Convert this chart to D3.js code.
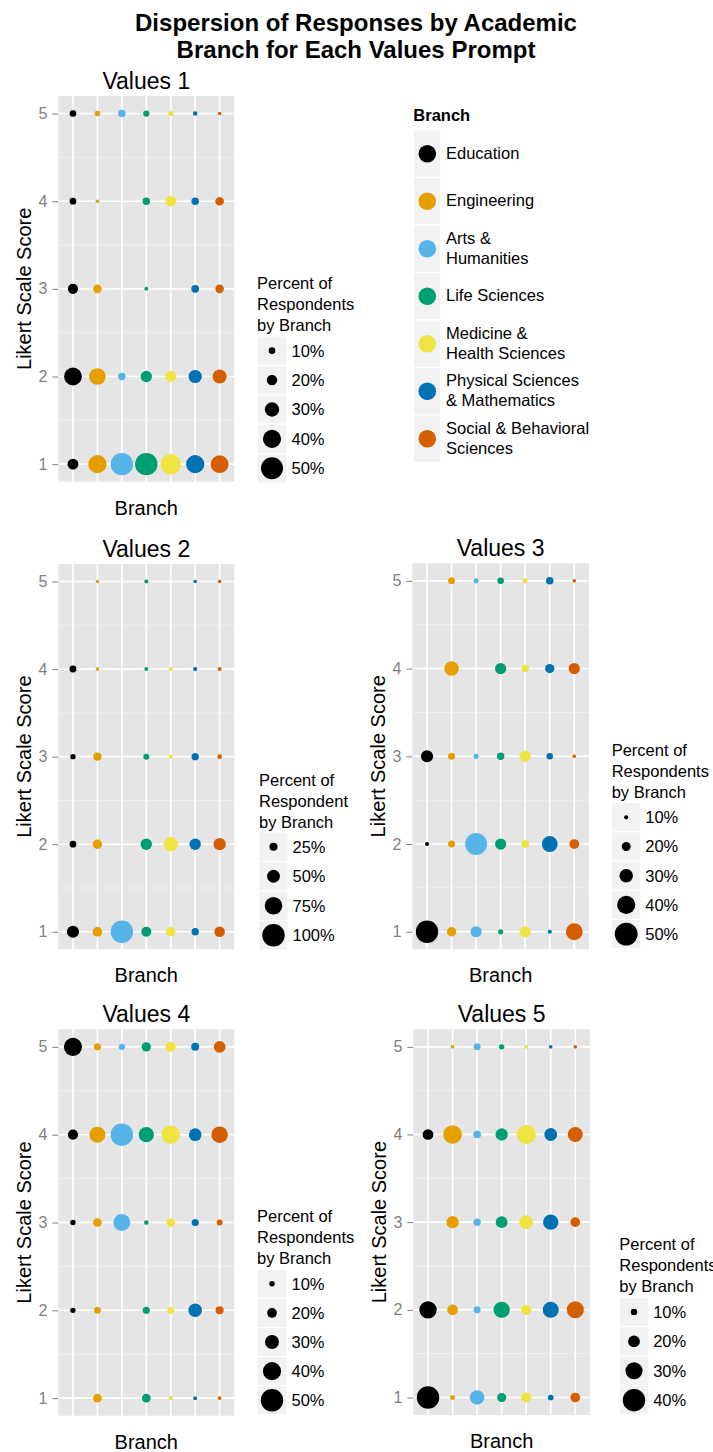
<!DOCTYPE html>
<html>
<head>
<meta charset="utf-8">
<script src="https://d3js.org/d3.v7.min.js"></script>
<style>
  body { margin: 0; background: #fff; }
  text { font-family: "Liberation Sans", Arial, Helvetica, sans-serif; }
</style>
</head>
<body>
<div id="chart"></div>
<script>
// branches, in plotting order
const branches = ["Education", "Engineering", "Arts & Humanities", "Life Sciences",
  "Medicine & Health Sciences", "Physical Sciences & Mathematics", "Social & Behavioral Sciences"];
const branchLabels = [["Education"], ["Engineering"], ["Arts &", "Humanities"], ["Life Sciences"],
  ["Medicine &", "Health Sciences"], ["Physical Sciences", "& Mathematics"], ["Social & Behavioral", "Sciences"]];
const branchColors = ["#000000", "#E69F00", "#56B4E9", "#009E73", "#F0E442", "#0072B2", "#D55E00"];
const scores = [1, 2, 3, 4, 5];

// percent of respondents per branch, for scores 1..5 (null = no one)
const values1 = [
  [21, 39, 19, 10, 10],
  [40, 36, 15, 2, 7],
  [51, 12, null, null, 12],
  [51, 22, 3, 12, 9],
  [46, 21, null, 21, 6],
  [40, 27, 13, 12, 4],
  [39, 29, 15, 15, 2]
];
const values2 = [
  [46, 18, 11, 19, null],
  [33, 32, 25, 1.4, 1.4],
  [100, null, null, null, null],
  [35, 42, 14, 3.5, 3.5],
  [32, 58, 3.5, 3.5, null],
  [21, 42, 21, 5, 1.7],
  [38, 47, 7, 3.5, 1.4]
];
const values3 = [
  [49, 9.6, 27, null, null],
  [21, 16, 16, 32, 16],
  [25, 48, 12, null, 12],
  [12, 25, 17, 25, 15],
  [25, 18, 25, 17, 12],
  [10, 35, 15, 21, 17],
  [37, 22, 8.7, 25, 8.7]
];
const values4 = [
  [null, 9.7, 9.7, 21, 40],
  [17.5, 13, 17.5, 35, 14],
  [null, null, 37, 50, 12],
  [17.5, 14, 8, 33, 19],
  [7.3, 13, 17.5, 41, 21],
  [6.5, 29, 14, 27, 16],
  [5.6, 16, 11, 36, 25]
];
const values5 = [
  [40, 30.5, null, 18, null],
  [7.2, 18, 21, 33, 4.7],
  [25, 11, 11.6, 12.3, 11],
  [15, 28.6, 20, 21, 8],
  [17, 17, 23.6, 34, 5.4],
  [8.5, 28, 26.7, 22, 4.7],
  [16, 30, 16, 26, 4.6]
];

const breaks1 = [10, 20, 30, 40, 50];
const breaks2 = [25, 50, 75, 100];
const breaks3 = [10, 20, 30, 40, 50];
const breaks4 = [10, 20, 30, 40, 50];
const breaks5 = [10, 20, 30, 40];

const sizeTitleA = ["Percent of", "Respondents", "by Branch"];
const sizeTitleB = ["Percent of", "Respondent", "by Branch"];

const W = 713, H = 1452;
const svg = d3.select("#chart").append("svg")
  .attr("width", W).attr("height", H);
svg.append("rect").attr("width", W).attr("height", H).attr("fill", "#fff");

// main title
svg.append("text")
  .attr("x", 356).attr("text-anchor", "middle")
  .style("font-size", "24px").style("font-weight", "bold")
  .selectAll("tspan")
  .data(["Dispersion of Responses by Academic", "Branch for Each Values Prompt"])
  .join("tspan")
  .attr("x", 356)
  .attr("y", (d, i) => 31 + i * 27)
  .text(d => d);

const panels = [
  { title: "Values 1", data: values1, breaks: breaks1, lt: sizeTitleA,
    plot: { x: 58.3, y: 96, w: 176, h: 385.7 }, leg: { x: 257, ty: 289, ky: 336, kw: 30, kh: 29.4 } },
  { title: "Values 2", data: values2, breaks: breaks2, lt: sizeTitleB,
    plot: { x: 58.3, y: 564, w: 176, h: 385.3 }, leg: { x: 259, ty: 786, ky: 832, kw: 29, kh: 29.5 } },
  { title: "Values 3", data: values3, breaks: breaks3, lt: sizeTitleA,
    plot: { x: 412.3, y: 563.3, w: 176.7, h: 386 }, leg: { x: 611.7, ty: 756, ky: 802.7, kw: 29, kh: 29.2 } },
  { title: "Values 4", data: values4, breaks: breaks4, lt: sizeTitleA,
    plot: { x: 58.3, y: 1029.3, w: 176, h: 386.4 }, leg: { x: 257, ty: 1222, ky: 1269.3, kw: 30, kh: 29.1 } },
  { title: "Values 5", data: values5, breaks: breaks5, lt: sizeTitleA,
    plot: { x: 413.3, y: 1029.3, w: 176.7, h: 385.7 }, leg: { x: 619.3, ty: 1250, ky: 1297.3, kw: 29.4, kh: 29.4 } }
];

panels.forEach(p => {
  const pl = p.plot;
  const g = svg.append("g");

  const x = d3.scalePoint().domain(branches).range([pl.x, pl.x + pl.w]).padding(0.6);
  const y = d3.scaleLinear().domain([0.8, 5.2]).range([pl.y + pl.h, pl.y]);

  // flatten to points
  const pts = [];
  p.data.forEach((row, bi) => row.forEach((v, si) => {
    if (v != null) pts.push({ branch: branches[bi], color: branchColors[bi], score: scores[si], v: v });
  }));
  const r = d3.scaleLinear().domain(d3.extent(pts, d => d.v)).range([1.8, 11.2]);

  // panel background + grid
  g.append("rect").attr("x", pl.x).attr("y", pl.y).attr("width", pl.w).attr("height", pl.h)
    .attr("fill", "#E5E5E5");
  g.selectAll(".minor").data([1.5, 2.5, 3.5, 4.5]).join("line")
    .attr("x1", pl.x).attr("x2", pl.x + pl.w)
    .attr("y1", d => y(d)).attr("y2", d => y(d))
    .attr("stroke", "#F2F2F2").attr("stroke-width", 0.8);
  g.selectAll(".majy").data(scores).join("line")
    .attr("x1", pl.x).attr("x2", pl.x + pl.w)
    .attr("y1", d => y(d)).attr("y2", d => y(d))
    .attr("stroke", "#fff").attr("stroke-width", 1.6);
  g.selectAll(".majx").data(branches).join("line")
    .attr("x1", d => x(d)).attr("x2", d => x(d))
    .attr("y1", pl.y).attr("y2", pl.y + pl.h)
    .attr("stroke", "#fff").attr("stroke-width", 1.6);

  // y axis
  const ax = g.append("g").attr("transform", `translate(${pl.x},0)`)
    .call(d3.axisLeft(y).tickValues(scores).tickFormat(d3.format("d")).tickSize(6).tickPadding(5));
  ax.attr("font-size", 16).attr("font-family", "'Liberation Sans', Arial, sans-serif");
  ax.select(".domain").remove();
  ax.selectAll("line").attr("stroke", "#7F7F7F");
  ax.selectAll("text").attr("fill", "#7F7F7F");

  // points
  g.selectAll(".pt").data(pts).join("circle")
    .attr("cx", d => x(d.branch)).attr("cy", d => y(d.score))
    .attr("r", d => r(d.v)).attr("fill", d => d.color);

  // titles
  g.append("text").attr("x", pl.x + pl.w / 2).attr("y", pl.y - 7)
    .attr("text-anchor", "middle").style("font-size", "23px").text(p.title);
  g.append("text").attr("x", pl.x + pl.w / 2).attr("y", pl.y + pl.h + 33)
    .attr("text-anchor", "middle").style("font-size", "20px").text("Branch");
  g.append("text")
    .attr("transform", `translate(${pl.x - 27},${pl.y + pl.h / 2}) rotate(-90)`)
    .attr("text-anchor", "middle").style("font-size", "20px").text("Likert Scale Score");

  // size legend
  const L = p.leg;
  g.append("text").style("font-size", "16.5px")
    .selectAll("tspan").data(p.lt).join("tspan")
    .attr("x", L.x).attr("y", (d, i) => L.ty + i * 21).text(d => d);
  const keys = g.selectAll(".key").data(p.breaks).join("g")
    .attr("transform", (d, i) => `translate(${L.x},${L.ky + i * L.kh})`);
  keys.append("rect").attr("width", L.kw).attr("height", L.kh)
    .attr("fill", "#F2F2F2").attr("stroke", "#fff").attr("stroke-width", 1);
  keys.append("circle").attr("cx", L.kw / 2).attr("cy", L.kh / 2)
    .attr("r", d => r(d)).attr("fill", "#000");
  keys.append("text").attr("x", L.kw + 4.5).attr("y", L.kh / 2 + 6)
    .style("font-size", "16.5px").text(d => d + "%");
});

// branch colour legend
const bl = { x: 413.3, y: 130, kw: 27.4, kh: 47.5 };
svg.append("text").attr("x", bl.x).attr("y", 120.7)
  .style("font-size", "16.5px").style("font-weight", "bold").text("Branch");
const bk = svg.selectAll(".bkey").data(branches).join("g")
  .attr("transform", (d, i) => `translate(${bl.x},${bl.y + i * bl.kh})`);
bk.append("rect").attr("width", bl.kw).attr("height", bl.kh)
  .attr("fill", "#F2F2F2").attr("stroke", "#fff").attr("stroke-width", 1.2);
bk.append("circle").attr("cx", 14).attr("cy", bl.kh / 2).attr("r", 8.8)
  .attr("fill", (d, i) => branchColors[i]);
bk.append("text").style("font-size", "16.5px")
  .selectAll("tspan").data((d, i) => branchLabels[i].map((t, j, a) => ({ t, j, n: a.length })))
  .join("tspan")
  .attr("x", 32.7)
  .attr("y", d => d.n === 1 ? bl.kh / 2 + 5 : bl.kh / 2 - 5 + d.j * 20)
  .text(d => d.t);
</script>
</body>
</html>
